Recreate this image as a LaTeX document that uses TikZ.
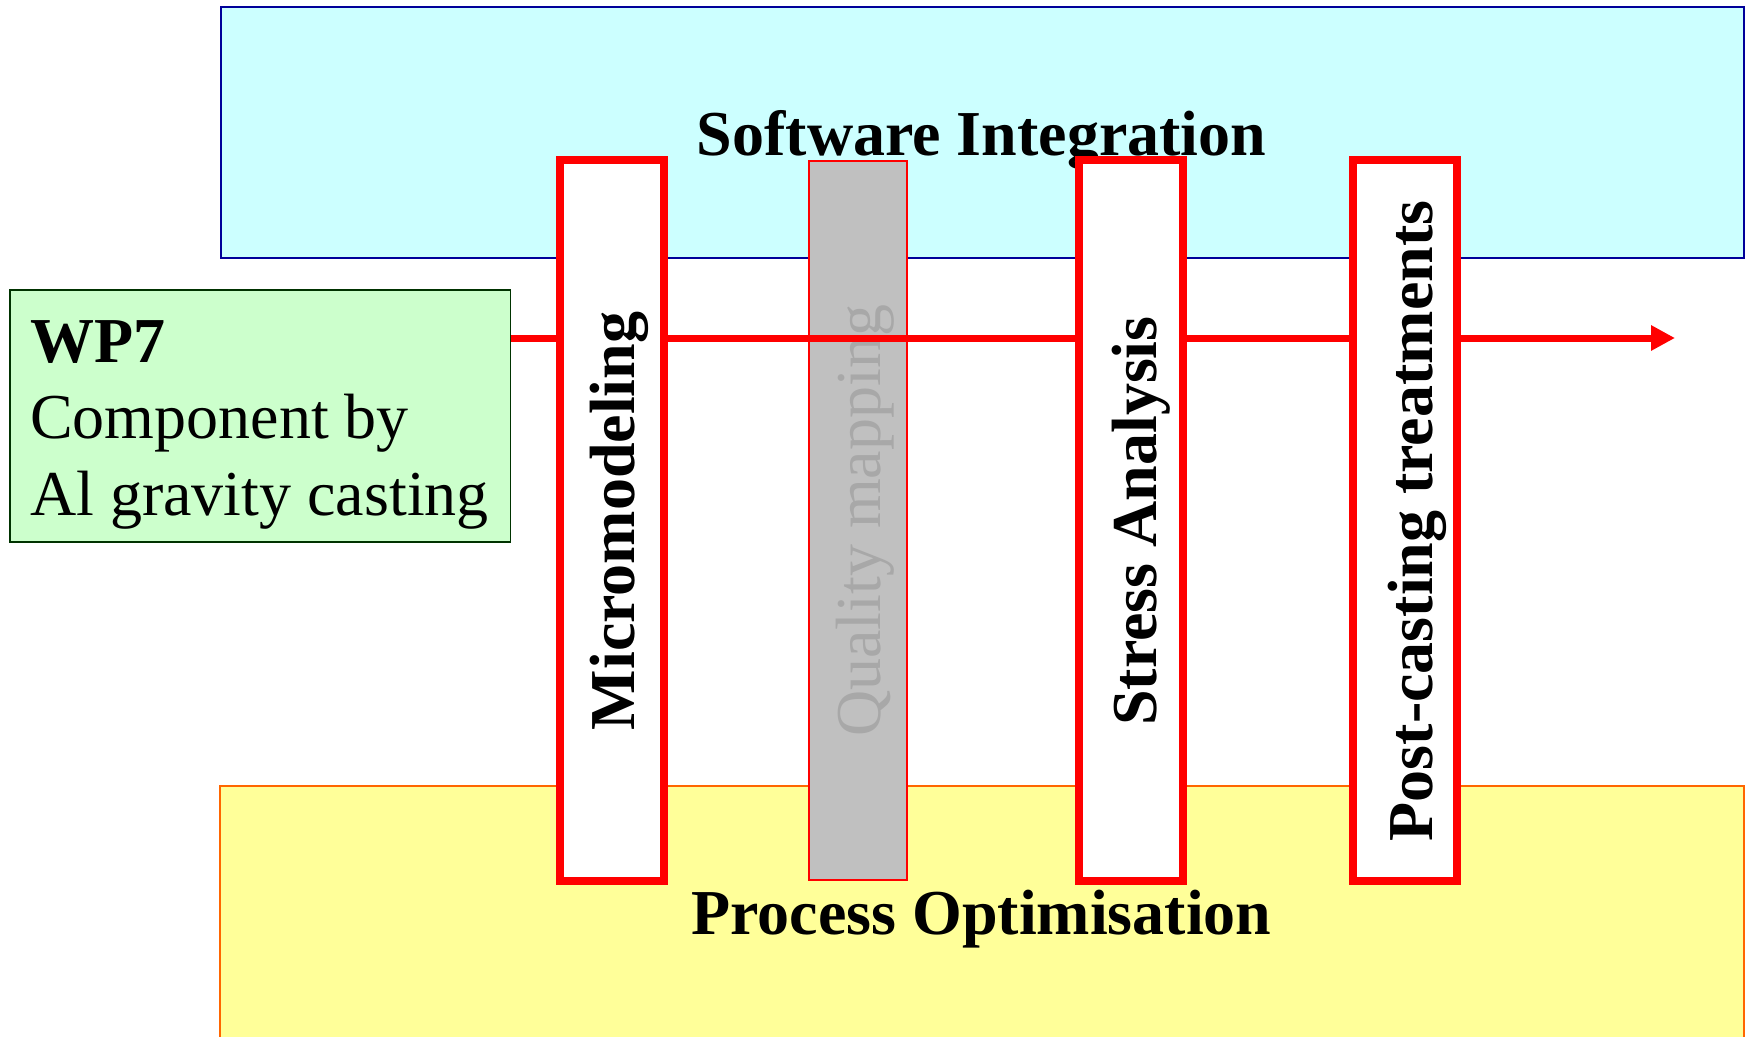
\documentclass[tikz,border=0pt]{standalone}
\usepackage{fontspec}
\setmainfont{Liberation Serif}
\usetikzlibrary{arrows.meta}
\definecolor{bandcyan}{HTML}{CCFFFF}
\definecolor{bandnavy}{HTML}{000099}
\definecolor{bandyellow}{HTML}{FFFF99}
\definecolor{bandorange}{HTML}{FF6600}
\definecolor{wpgreen}{HTML}{CCFFCC}
\definecolor{wpdark}{HTML}{003300}
\definecolor{stagegray}{HTML}{C0C0C0}
\definecolor{stagegraytext}{HTML}{A8A8A8}
\begin{document}
\begin{tikzpicture}[x=1pt,y=1pt,
  band/.style={line width=2pt, minimum width=1523pt, inner sep=0pt, anchor=north west},
  bandtitle/.style={font=\fontsize{64}{76.5}\selectfont\bfseries, inner sep=0pt, anchor=base},
  stagebox/.style={draw=red, line width=8pt, fill=white, minimum width=104pt,
    minimum height=721pt, inner sep=0pt},
  stagelabel/.style={rotate=90, inner sep=0pt, anchor=base,
    font=\fontsize{64}{76.5}\selectfont\bfseries},
  flow/.style={draw=red, line width=7pt, -{Triangle[length=24pt,width=24pt]}},
  wptext/.style={inner sep=0pt, anchor=base west, font=\fontsize{64}{76.5}\selectfont}
]
\useasboundingbox (0,0) rectangle (1748,-1036);

% horizontal bands
\node[band, draw=bandnavy, fill=bandcyan, minimum height=251pt] (soft) at (220,-6) {};
\node[band, draw=bandorange, fill=bandyellow, minimum height=260pt, minimum width=1524pt] (proc) at (219,-785) {};
\node[bandtitle] (softtitle) at (981.5,-155) {Software Integration};
\node[bandtitle] (proctitle) at (981.5,-934) {Process Optimisation};

% work package box
\node[draw=wpdark, line width=1.5pt, fill=wpgreen, minimum width=500.5pt, minimum height=252pt,
  inner sep=0pt, anchor=north west] (wp) at (9,-289) {};
\node[wptext, font=\fontsize{64}{76.5}\selectfont\bfseries] (wpA) at (30,-362) {WP7};
\node[wptext] (wpB) at (30,-438) {Component by};
\node[wptext] (wpC) at (30,-515) {Al gravity casting};

% inactive stage
\node[draw=red, line width=1.5pt, fill=stagegray, minimum width=98pt, minimum height=719pt,
  inner sep=0pt] (qual) at (858,-520.5) {};
\node[stagelabel, font=\fontsize{64}{76.5}\selectfont, text=stagegraytext] (quallabel)
  at (880,-521) {Quality mapping};

% main flow
\coordinate (flowend) at (1675,-338);
\draw[flow] (wp.east |- flowend) -- (flowend);

% active stages
\node[stagebox] (micro) at (611.5,-520.5) {};
\node[stagebox] (stress) at (1131,-520.5) {};
\node[stagebox] (post) at (1405,-520.5) {};
\node[stagelabel] (microlabel) at (634,-521) {Micromodeling};
\node[stagelabel] (stresslabel) at (1156,-521) {Stress Analysis};
\node[stagelabel] (postlabel) at (1432,-521) {Post-casting treatments};
\end{tikzpicture}
\end{document}
